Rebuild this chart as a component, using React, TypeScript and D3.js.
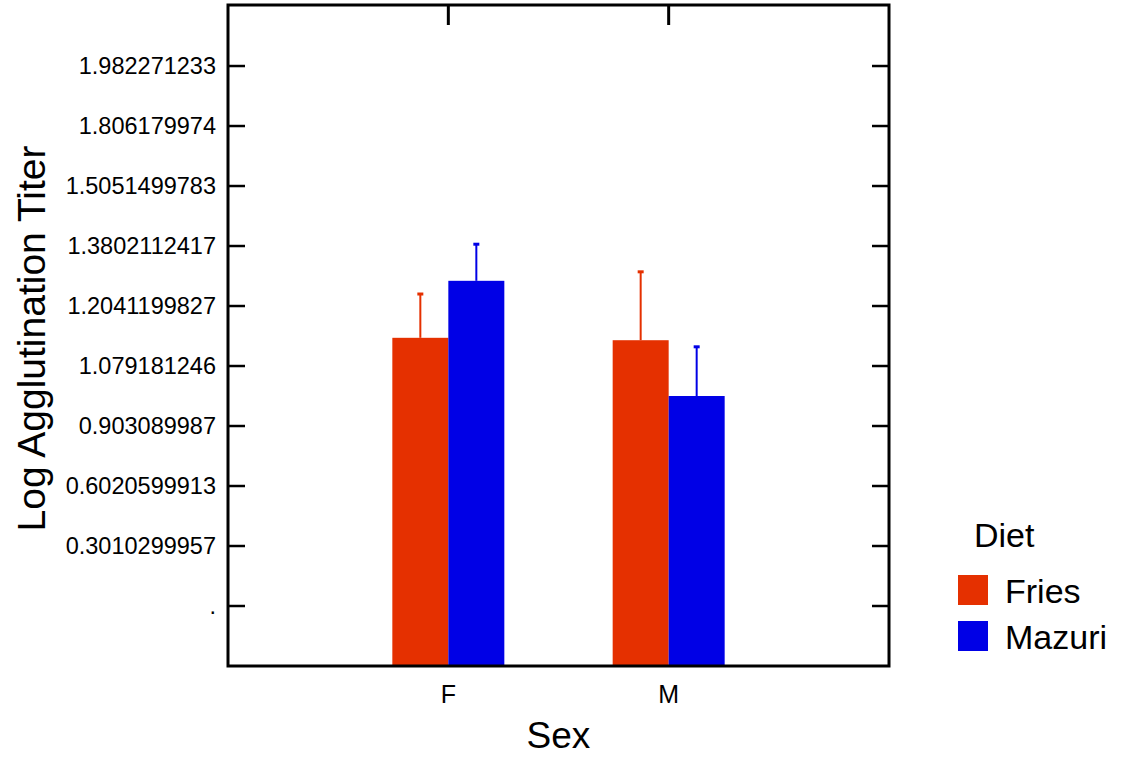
import React from "react";
import * as d3 from "d3";

const sexes = ["F", "M"];
const diets = ["Fries", "Mazuri"];
const dietColors = ["#e53000", "#0000e6"];
const tickLabels = [".", "0.3010299957", "0.6020599913", "0.903089987", "1.079181246", "1.2041199827", "1.3802112417", "1.5051499783", "1.806179974", "1.982271233"];
// values in tick-index units (tick i at position i+1)
const friesMeans = [5.47, 5.43];
const friesErr = [6.2, 6.57];
const mazuriMeans = [6.42, 4.5];
const mazuriErr = [7.03, 5.32];

const App: React.FC = () => {
  const W = 1128, H = 761;
  const left = 228, right = 889, top = 5, bottom = 666;
  const x = d3.scalePoint<string>().domain(sexes).range([left, right]).padding(1);
  const y = d3.scaleLinear().domain([0, 11.017]).range([bottom, top]);
  const barW = 56;
  const series = [
    { means: friesMeans, err: friesErr },
    { means: mazuriMeans, err: mazuriErr },
  ];
  const font = "Arial, Liberation Sans, sans-serif";
  return (
    <svg width={W} height={H} style={{ position: "absolute", left: 0, top: 0 }} fontFamily={font}>
      {series.map((s, si) =>
        sexes.map((c, ci) => {
          const x0 = x(c)! + (si === 0 ? -barW : 0);
          const cx = x0 + barW / 2;
          return (
            <g key={`${si}-${ci}`}>
              <line x1={cx} x2={cx} y1={y(s.means[ci])} y2={y(s.err[ci])} stroke={dietColors[si]} strokeWidth={2} />
              <line x1={cx - 3} x2={cx + 3} y1={y(s.err[ci])} y2={y(s.err[ci])} stroke={dietColors[si]} strokeWidth={3} />
              <rect x={x0} y={y(s.means[ci])} width={barW} height={bottom - y(s.means[ci])} fill={dietColors[si]} />
            </g>
          );
        })
      )}
      <rect x={left} y={top} width={right - left} height={bottom - top} fill="none" stroke="#000" strokeWidth={3} />
      {tickLabels.map((t, i) => (
        <g key={t}>
          <line x1={left} x2={left + 17} y1={y(i + 1)} y2={y(i + 1)} stroke="#000" strokeWidth={2.5} />
          <line x1={right - 17} x2={right} y1={y(i + 1)} y2={y(i + 1)} stroke="#000" strokeWidth={2.5} />
          <text x={left - 12} y={y(i + 1) + 8} textAnchor="end" fontSize={23.5}>{t}</text>
        </g>
      ))}
      {sexes.map((c) => (
        <g key={c}>
          <line x1={x(c)} x2={x(c)} y1={top} y2={top + 20} stroke="#000" strokeWidth={3} />
          <text x={x(c)} y={703} textAnchor="middle" fontSize={25}>{c}</text>
        </g>
      ))}
      <text x={(left + right) / 2} y={748} textAnchor="middle" fontSize={37}>Sex</text>
      <text transform={`translate(45,${(top + bottom) / 2 + 3}) rotate(-90)`} textAnchor="middle" fontSize={39}>Log Agglutination Titer</text>
      <text x={974} y={547} fontSize={34}>Diet</text>
      {diets.map((d, i) => (
        <g key={d}>
          <rect x={958} y={575 + i * 46} width={30} height={30} fill={dietColors[i]} />
          <text x={1005} y={603 + i * 46} fontSize={34}>{d}</text>
        </g>
      ))}
    </svg>
  );
};

export default App;
